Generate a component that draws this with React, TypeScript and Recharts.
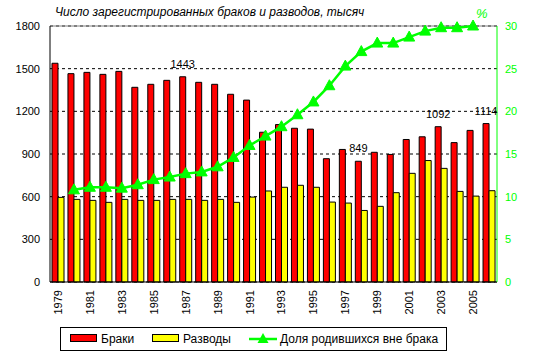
import React from "react";
import {
  Bar,
  CartesianGrid,
  ComposedChart,
  LabelList,
  Line,
  ReferenceLine,
  XAxis,
  YAxis,
} from "recharts";

const years = [
  1979, 1980, 1981, 1982, 1983, 1984, 1985, 1986, 1987, 1988, 1989, 1990, 1991, 1992,
  1993, 1994, 1995, 1996, 1997, 1998, 1999, 2000, 2001, 2002, 2003, 2004, 2005, 2006,
];
const marriages = [
  1538, 1465, 1474, 1460, 1481, 1369, 1390, 1418, 1443, 1404, 1390, 1320, 1279, 1053,
  1107, 1081, 1075, 867, 932, 849, 912, 897, 1002, 1021, 1092, 980, 1066, 1114,
];
const divorces = [
  595, 581, 574, 560, 581, 574, 574, 581, 581, 574, 581, 560, 597, 640,
  666, 680, 666, 562, 555, 503, 532, 628, 764, 854, 799, 637, 604, 642,
];
const outOfWedlock = [
  null, 10.8, 11.1, 11.1, 11.0, 11.4, 12.0, 12.3, 12.7, 12.9, 13.5, 14.6, 16.0, 17.1,
  18.2, 19.6, 21.1, 23.0, 25.3, 27.0, 28.0, 28.0, 28.7, 29.4, 29.8, 29.8, 30.0, null,
];
const labelledYears = [1987, 1998, 2003, 2006];
const leftTicks = [0, 300, 600, 900, 1200, 1500, 1800];
const rightTicks = [0, 5, 10, 15, 20, 25, 30];

const title = "Число зарегистрированных браков и разводов, тысяч";
const seriesNames = ["Браки", "Разводы", "Доля родившихся вне брака"];

const data = years.map((year, i) => ({
  year,
  marriages: marriages[i],
  divorces: divorces[i],
  share: outOfWedlock[i],
}));

const FONT = "Arial, 'Liberation Sans', sans-serif";
const GREEN = "#00FF00";

function Triangle(props: any) {
  const { cx, cy } = props;
  if (cx == null || cy == null || Number.isNaN(cy)) return null;
  return (
    <polygon
      points={`${cx},${cy - 6} ${cx - 5.5},${cy + 4} ${cx + 5.5},${cy + 4}`}
      fill={GREEN}
      stroke={GREEN}
    />
  );
}

function YearTick({ x, y, payload }: any) {
  return (
    <text
      x={x}
      y={y}
      dy={4}
      transform={`rotate(-90, ${x}, ${y})`}
      textAnchor="end"
      fontSize={11}
      fontFamily={FONT}
      fill="#000"
    >
      {payload.value}
    </text>
  );
}

function ValueLabel(props: any) {
  const { x, y, width, value, index } = props;
  if (!labelledYears.includes(years[index])) return null;
  return (
    <text
      x={x + width / 2}
      y={y - 9}
      textAnchor="middle"
      fontSize={11}
      fontFamily={FONT}
      fill="#000"
    >
      {value}
    </text>
  );
}

export default function App() {
  return (
    <div style={{ position: "fixed", left: 0, top: 0, width: 534, height: 359, background: "#fff" }}>
      <ComposedChart
        width={534}
        height={359}
        data={data}
        margin={{ top: 26, right: 0, bottom: 47, left: 0 }}
        barSize={6}
        barGap={0}
      >
        <CartesianGrid yAxisId="left" vertical={false} stroke="#000" strokeDasharray="3 3" />
        <XAxis
          dataKey="year"
          height={30}
          interval={1}
          tickLine={false}
          axisLine={{ stroke: "#000" }}
          tick={<YearTick />}
        />
        <YAxis
          yAxisId="left"
          width={50}
          domain={[0, 1800]}
          ticks={leftTicks}
          tickLine={false}
          tickMargin={4}
          axisLine={{ stroke: "#000" }}
          tick={{ fill: "#000", fontSize: 11, fontFamily: FONT }}
        />
        <YAxis
          yAxisId="right"
          orientation="right"
          width={37}
          domain={[0, 30]}
          ticks={rightTicks}
          tickLine={false}
          axisLine={{ stroke: GREEN }}
          tick={{ fill: GREEN, fontSize: 11, fontFamily: FONT }}
        />
        <ReferenceLine yAxisId="left" y={1800} stroke="#808080" />
        <Bar
          yAxisId="left"
          dataKey="marriages"
          name={seriesNames[0]}
          fill="#FF0000"
          stroke="#000"
          strokeWidth={1}
          isAnimationActive={false}
        >
          <LabelList dataKey="marriages" content={<ValueLabel />} />
        </Bar>
        <Bar
          yAxisId="left"
          dataKey="divorces"
          name={seriesNames[1]}
          fill="#FFFF00"
          stroke="#000"
          strokeWidth={1}
          isAnimationActive={false}
        />
        <Line
          yAxisId="right"
          dataKey="share"
          name={seriesNames[2]}
          type="linear"
          stroke={GREEN}
          strokeWidth={2.5}
          dot={<Triangle />}
          activeDot={false}
          isAnimationActive={false}
        />
      </ComposedChart>

      <svg
        width={534}
        height={359}
        style={{ position: "absolute", left: 0, top: 0, pointerEvents: "none" }}
        fontFamily={FONT}
      >
        <text x={55} y={16} fontSize={12} fontStyle="italic" fill="#000">
          {title}
        </text>
        <text x={476} y={18} fontSize={13} fontStyle="italic" fill={GREEN}>
          %
        </text>

        <rect x={60.5} y={327.5} width={386} height={23} fill="#fff" stroke="#000" />
        <rect x={70.5} y={334.5} width={26} height={7} fill="#FF0000" stroke="#000" />
        <text x={101} y={343} fontSize={12} fill="#000">
          {seriesNames[0]}
        </text>
        <rect x={152.5} y={334.5} width={26} height={7} fill="#FFFF00" stroke="#000" />
        <text x={183} y={343} fontSize={12} fill="#000">
          {seriesNames[1]}
        </text>
        <line x1={249} y1={339} x2={277} y2={339} stroke={GREEN} strokeWidth={2.5} />
        <polygon points="263,333 257.5,343 268.5,343" fill={GREEN} />
        <text x={280} y={343} fontSize={12} fill="#000">
          {seriesNames[2]}
        </text>
      </svg>
    </div>
  );
}
